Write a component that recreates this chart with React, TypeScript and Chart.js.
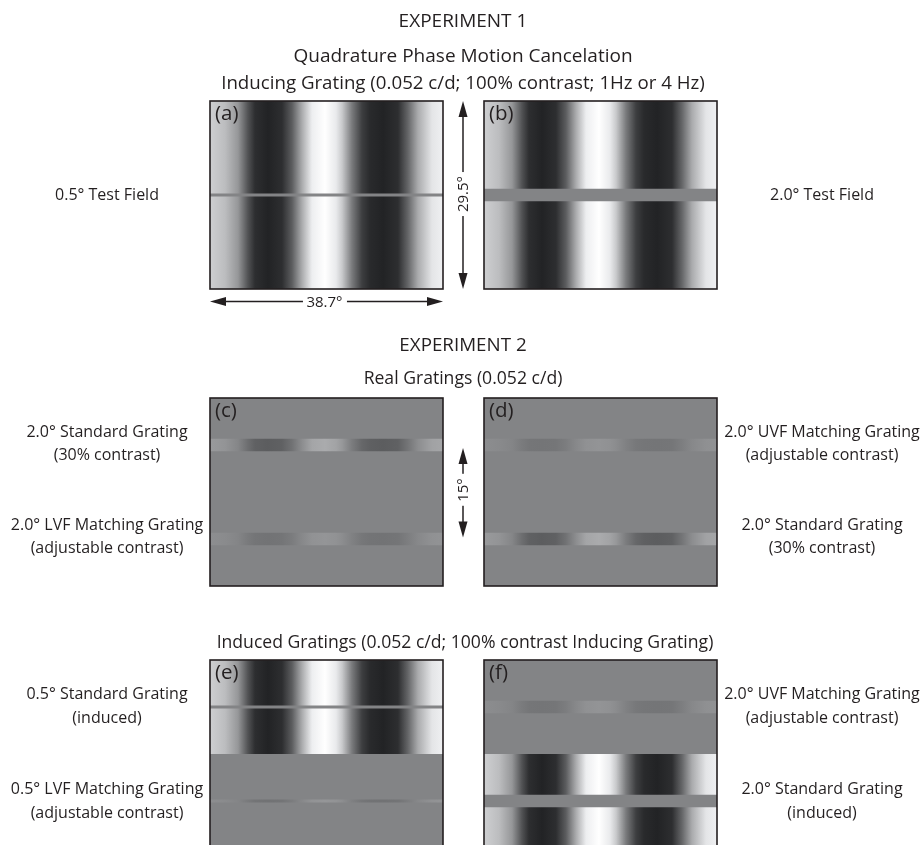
import React, { useEffect, useRef } from "react";
import { Chart, registerables } from "chart.js";

Chart.register(...registerables);

// ---------------------------------------------------------------------------
// Stimulus data (visual angle in degrees)
// ---------------------------------------------------------------------------
const FIELD_W = 38.7; // display width
const FIELD_H = 29.5; // display height

// Horizontal luminance profile of the 0.052 c/d inducing grating
// (0 = black, 1 = white), sampled across the display width in degrees.
const profileDeg = [
  0, 2.49, 4.65, 6.31, 7.47, 9.63, 11.96, 13.62, 15.28, 16.94, 19.1, 20.93,
  21.93, 23.59, 25.25, 26.58, 28.74, 31.23, 32.89, 34.55, 36.87, 38.7,
];
const profileLum = [
  0.78, 0.7, 0.53, 0.22, 0.06, 0.01, 0.06, 0.27, 0.62, 0.92, 1.0, 0.9, 0.76,
  0.4, 0.13, 0.04, 0.01, 0.06, 0.31, 0.62, 0.88, 0.93,
];

// Fields of each display: [top, bottom, contrast].
// contrast 1 = inducing grating, 0 = uniform mean-luminance field,
// anything else = a real grating of that contrast on the mean field.
const fieldsA = [
  [0, 29.5, 1],
  [14.5, 15.0, 0],
];
const fieldsB = [
  [0, 29.5, 1],
  [13.75, 15.75, 0],
];
const fieldsC = [
  [0, 29.5, 0],
  [6.375, 8.375, 0.3],
  [21.125, 23.125, 0.13],
];
const fieldsD = [
  [0, 29.5, 0],
  [6.375, 8.375, 0.12],
  [21.125, 23.125, 0.3],
];
const fieldsE = [
  [0, 14.75, 1],
  [7.125, 7.625, 0],
  [14.75, 29.5, 0],
  [21.875, 22.375, 0.14],
];
const fieldsF = [
  [0, 14.75, 0],
  [6.375, 8.375, 0.12],
  [14.75, 29.5, 1],
  [21.125, 23.125, 0],
];

const panelLetters = ["(a)", "(b)", "(c)", "(d)", "(e)", "(f)"];

// ---------------------------------------------------------------------------
// Layout and style
// ---------------------------------------------------------------------------
const COL_X = [210, 484];
const ROW_Y = [101, 398, 660];
const PANEL_W = 233;
const PANEL_H = 188;
const PAD = 3;
const INK = "#231f20";
const FONT = "'Open Sans', 'Noto Sans', sans-serif";

const GRAY = 131; // mean luminance of uniform fields
const INDUCER_DARK = 32;
const INDUCER_LIGHT = 255;

function grayAt(lum: number, contrast: number) {
  if (contrast >= 1) return INDUCER_DARK + lum * (INDUCER_LIGHT - INDUCER_DARK);
  return GRAY + (lum - 0.5) * 2 * contrast * GRAY;
}

function rgb(v: number) {
  const c = (n: number) => Math.round(Math.max(0, Math.min(255, n)));
  return `rgb(${c(v)},${c(v + 1)},${c(v + 3)})`;
}

function fieldFill(chart: Chart, contrast: number) {
  const { chartArea, scales } = chart as any;
  if (contrast === 0 || !chartArea || !scales.x) return rgb(GRAY);
  const xs = scales.x;
  const x0 = xs.getPixelForValue(profileDeg[0]);
  const x1 = xs.getPixelForValue(profileDeg[profileDeg.length - 1]);
  const g = chart.ctx.createLinearGradient(x0, 0, x1, 0);
  profileDeg.forEach((d, i) => {
    const t = (xs.getPixelForValue(d) - x0) / (x1 - x0);
    g.addColorStop(Math.max(0, Math.min(1, t)), rgb(grayAt(profileLum[i], contrast)));
  });
  return g;
}

const framePlugin = {
  id: "fieldFrame",
  afterDraw(chart: Chart) {
    const { ctx, chartArea: a } = chart;
    ctx.save();
    ctx.strokeStyle = INK;
    ctx.lineWidth = 1.6;
    ctx.strokeRect(a.left, a.top, a.right - a.left, a.bottom - a.top);
    ctx.restore();
  },
};

function FieldPanel({
  left,
  top,
  fields,
  letter,
}: {
  left: number;
  top: number;
  fields: number[][];
  letter: string;
}) {
  const ref = useRef<HTMLCanvasElement>(null);

  useEffect(() => {
    if (!ref.current) return;
    const datasets = fields.map(([fTop, fBottom, contrast], i) => ({
      data: [
        { x: 0, y: fBottom },
        { x: FIELD_W, y: fBottom },
      ],
      fill: { value: fTop },
      borderWidth: 0,
      borderColor: "transparent",
      pointRadius: 0,
      tension: 0,
      backgroundColor: (ctx: any) => fieldFill(ctx.chart, contrast),
      order: fields.length - i,
    }));
    const chart = new Chart(ref.current, {
      type: "line",
      data: { datasets } as any,
      options: {
        animation: false,
        responsive: false,
        maintainAspectRatio: false,
        events: [],
        layout: { padding: PAD },
        plugins: {
          legend: { display: false },
          tooltip: { enabled: false },
          title: { display: false },
        },
        scales: {
          x: { type: "linear", min: 0, max: FIELD_W, display: false },
          y: { type: "linear", min: 0, max: FIELD_H, reverse: true, display: false },
        },
      },
      plugins: [framePlugin],
    });
    return () => chart.destroy();
  }, [fields]);

  return (
    <>
      <canvas
        ref={ref}
        width={PANEL_W + 2 * PAD}
        height={PANEL_H + 2 * PAD}
        style={{
          position: "absolute",
          left: left - PAD,
          top: top - PAD,
          width: PANEL_W + 2 * PAD,
          height: PANEL_H + 2 * PAD,
        }}
      />
      <div
        style={{
          position: "absolute",
          left: left + 5,
          top: top + 1,
          fontSize: 20.5,
          lineHeight: "20px",
          color: INK,
          whiteSpace: "nowrap",
        }}
      >
        {letter}
      </div>
    </>
  );
}

function Text({
  x,
  y,
  size,
  children,
}: {
  x: number;
  y: number;
  size: number;
  children: React.ReactNode;
}) {
  return (
    <div
      style={{
        position: "absolute",
        left: x - 300,
        width: 600,
        top: y - size * 0.53,
        fontSize: size,
        lineHeight: `${size}px`,
        textAlign: "center",
        whiteSpace: "nowrap",
        color: INK,
      }}
    >
      {children}
    </div>
  );
}

function DimLabel({
  x,
  y,
  rotate,
  children,
}: {
  x: number;
  y: number;
  rotate?: boolean;
  children: React.ReactNode;
}) {
  return (
    <div
      style={{
        position: "absolute",
        left: x,
        top: y,
        transform: `translate(-50%, -50%)${rotate ? " rotate(-90deg)" : ""}`,
        background: "#fff",
        padding: "0 4px",
        fontSize: 15,
        lineHeight: "15px",
        whiteSpace: "nowrap",
        color: INK,
      }}
    >
      {children}
    </div>
  );
}

// Double-headed dimension arrow
function Arrow({ x1, y1, x2, y2 }: { x1: number; y1: number; x2: number; y2: number }) {
  const len = Math.hypot(x2 - x1, y2 - y1);
  const ux = (x2 - x1) / len;
  const uy = (y2 - y1) / len;
  const head = 16;
  const half = 4.5;
  const tri = (tx: number, ty: number, dx: number, dy: number) => {
    const bx = tx - dx * head;
    const by = ty - dy * head;
    return `${tx},${ty} ${bx - dy * half},${by + dx * half} ${bx + dy * half},${by - dx * half}`;
  };
  return (
    <g>
      <line
        x1={x1 + ux * (head - 1)}
        y1={y1 + uy * (head - 1)}
        x2={x2 - ux * (head - 1)}
        y2={y2 - uy * (head - 1)}
        stroke={INK}
        strokeWidth={1.5}
      />
      <polygon points={tri(x2, y2, ux, uy)} fill={INK} />
      <polygon points={tri(x1, y1, -ux, -uy)} fill={INK} />
    </g>
  );
}

export default function App() {
  useEffect(() => {
    document.body.style.margin = "0";
  }, []);

  const cx = 463;
  const leftX = 107;
  const rightX = 822;
  const L = 16;
  const panels = [
    { left: COL_X[0], top: ROW_Y[0], fields: fieldsA },
    { left: COL_X[1], top: ROW_Y[0], fields: fieldsB },
    { left: COL_X[0], top: ROW_Y[1], fields: fieldsC },
    { left: COL_X[1], top: ROW_Y[1], fields: fieldsD },
    { left: COL_X[0], top: ROW_Y[2], fields: fieldsE },
    { left: COL_X[1], top: ROW_Y[2], fields: fieldsF },
  ];

  return (
    <div
      style={{
        position: "absolute",
        left: 0,
        top: 0,
        width: 920,
        height: 845,
        overflow: "hidden",
        background: "#fff",
        fontFamily: FONT,
      }}
    >
      {panels.map((p, i) => (
        <FieldPanel key={i} left={p.left} top={p.top} fields={p.fields} letter={panelLetters[i]} />
      ))}

      <svg
        width={920}
        height={845}
        style={{ position: "absolute", left: 0, top: 0, pointerEvents: "none" }}
      >
        <Arrow x1={COL_X[0]} y1={301.5} x2={COL_X[0] + PANEL_W} y2={301.5} />
        <Arrow x1={463} y1={ROW_Y[0]} x2={463} y2={ROW_Y[0] + PANEL_H} />
        <Arrow x1={463} y1={448} x2={463} y2={537.5} />
      </svg>
      <DimLabel x={COL_X[0] + PANEL_W / 2 - 2} y={301}>38.7°</DimLabel>
      <DimLabel x={462} y={194} rotate>29.5°</DimLabel>
      <DimLabel x={462} y={490} rotate>15°</DimLabel>

      {/* Experiment 1 */}
      <Text x={cx} y={21} size={19}>EXPERIMENT 1</Text>
      <Text x={cx} y={56} size={19}>Quadrature Phase Motion Cancelation</Text>
      <Text x={cx} y={83} size={18.7}>Inducing Grating (0.052 c/d; 100% contrast; 1Hz or 4 Hz)</Text>
      <Text x={leftX} y={194} size={L}>0.5° Test Field</Text>
      <Text x={rightX} y={194} size={L}>2.0° Test Field</Text>

      {/* Experiment 2: real gratings */}
      <Text x={cx} y={345} size={18.8}>EXPERIMENT 2</Text>
      <Text x={cx} y={378} size={17.6}>Real Gratings (0.052 c/d)</Text>
      <Text x={leftX} y={431} size={L}>2.0° Standard Grating</Text>
      <Text x={leftX} y={454} size={L}>(30% contrast)</Text>
      <Text x={leftX} y={524} size={L}>2.0° LVF Matching Grating</Text>
      <Text x={leftX} y={547} size={L}>(adjustable contrast)</Text>
      <Text x={rightX} y={431} size={L}>2.0° UVF Matching Grating</Text>
      <Text x={rightX} y={454} size={L}>(adjustable contrast)</Text>
      <Text x={rightX} y={524} size={L}>2.0° Standard Grating</Text>
      <Text x={rightX} y={547} size={L}>(30% contrast)</Text>

      {/* Experiment 2: induced gratings */}
      <Text x={cx + 2} y={642} size={17.6}>Induced Gratings (0.052 c/d; 100% contrast Inducing Grating)</Text>
      <Text x={leftX} y={693} size={L}>0.5° Standard Grating</Text>
      <Text x={leftX} y={717} size={L}>(induced)</Text>
      <Text x={leftX} y={788} size={L}>0.5° LVF Matching Grating</Text>
      <Text x={leftX} y={812} size={L}>(adjustable contrast)</Text>
      <Text x={rightX} y={693} size={L}>2.0° UVF Matching Grating</Text>
      <Text x={rightX} y={717} size={L}>(adjustable contrast)</Text>
      <Text x={rightX} y={788} size={L}>2.0° Standard Grating</Text>
      <Text x={rightX} y={812} size={L}>(induced)</Text>
    </div>
  );
}
